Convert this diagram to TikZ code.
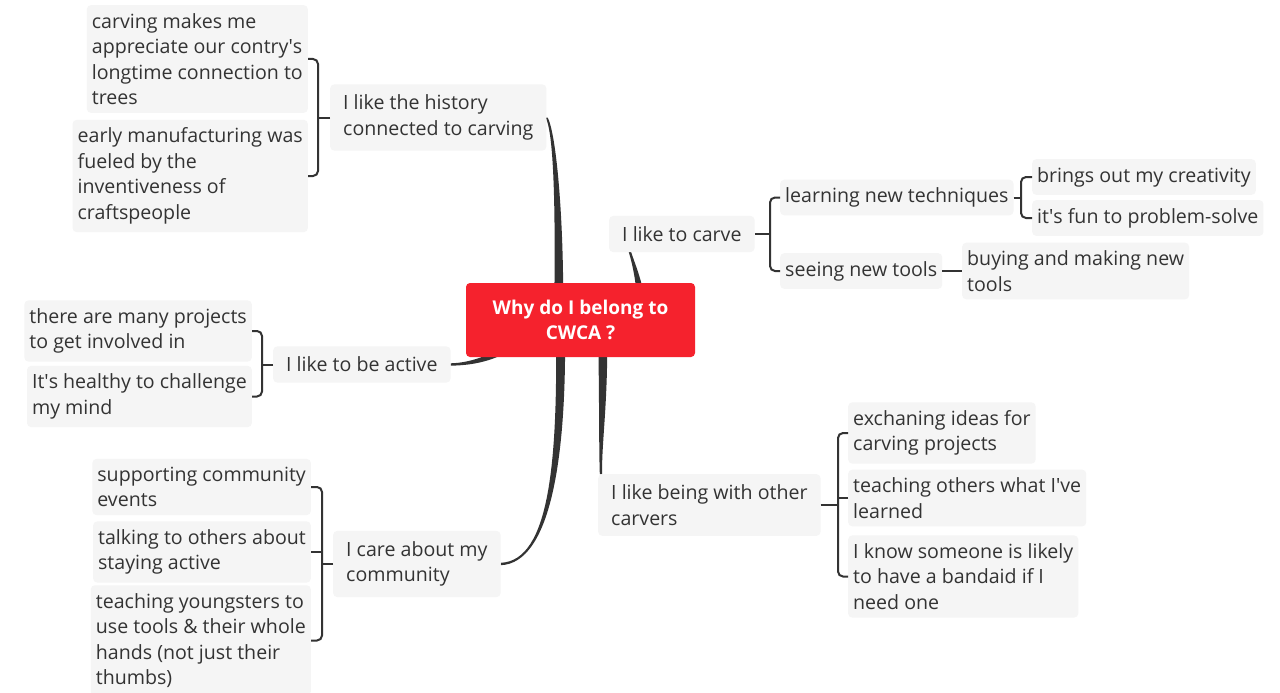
\documentclass[tikz,border=0pt]{standalone}
\usepackage{fontspec}
\setmainfont{Open Sans}
\usetikzlibrary{calc,backgrounds}

\definecolor{rootred}{HTML}{F5222D}
\definecolor{boxgray}{HTML}{F5F5F5}
\definecolor{inkgray}{HTML}{333333}

\newcommand{\ap}{\textquotesingle}
% tapered main branch: start offset from root, two controls, end point, half widths
\newcommand{\limb}[6]{%
  \fill[inkgray] ($(root.center)+(#1)+(#5)$) .. controls ($(#2)+(#5)$) and ($(#3)+(#6)$) .. ($(#4)+(#6)$)
    -- ($(#4)-(#6)$) .. controls ($(#3)-(#6)$) and ($(#2)-(#5)$) .. ($(root.center)+(#1)-(#5)$) -- cycle;}

\tikzset{
  sub/.style={fill=boxgray, text=inkgray, rounded corners=4pt, align=left,
    inner xsep=5pt, inner ysep=8pt, font=\fontsize{19.6}{25.5}\selectfont},
  topic/.style={sub, inner xsep=13pt, inner ysep=10.5pt},
  hub/.style={fill=rootred, text=white, rounded corners=4pt, align=center,
    minimum width=229pt, minimum height=74pt, font=\fontsize{19}{25.5}\selectfont\bfseries},
  brace/.style={draw=inkgray, line width=2pt, rounded corners=5pt},
}

\begin{document}
\begin{tikzpicture}[x=1pt, y=-1pt]
    \useasboundingbox (0,0) rectangle (1280,693);
    \node[hub] (root) at (580.5,320) {Why do I belong to\\CWCA ?};

    % left side
    \node[topic, anchor=west] (hist) at (330,117.5) {I like the history\\connected to carving};
    \node[sub, anchor=east] (histA) at (308,59) {carving makes me\\appreciate our contry\ap s\\longtime connection to\\trees};
    \node[sub, anchor=east] (histB) at (308,176) {early manufacturing was\\fueled by the\\inventiveness of\\craftspeople};

    \node[topic, anchor=west] (active) at (273,364.5) {I like to be active};
    \node[sub, anchor=east] (activeA) at (252,331) {there are many projects\\to get involved in};
    \node[sub, anchor=east] (activeB) at (252,396.5) {It\ap s healthy to challenge\\my mind};

    \node[topic, anchor=west] (comm) at (333,564) {I care about my\\community};
    \node[sub, anchor=east] (commA) at (311,487) {supporting community\\events};
    \node[sub, anchor=east] (commB) at (311,552) {talking to others about\\staying active};
    \node[sub, anchor=east] (commC) at (311,640.5) {teaching youngsters to\\use tools \& their whole\\hands (not just their\\thumbs)};

    % right side
    \node[topic, anchor=west] (carve) at (609,234) {I like to carve};
    \node[sub, anchor=west] (learn) at (780,197.5) {learning new techniques};
    \node[sub, anchor=west] (tools) at (780,271) {seeing new tools};
    \node[sub, anchor=west] (creat) at (1032,177) {brings out my creativity};
    \node[sub, anchor=west] (fun) at (1032,218) {it\ap s fun to problem-solve};
    \node[sub, anchor=west] (buy) at (962,271) {buying and making new\\tools};

    \node[topic, anchor=west] (carvers) at (598,505) {I like being with other\\carvers};
    \node[sub, anchor=west] (ideas) at (848,433) {exchaning ideas for\\carving projects};
    \node[sub, anchor=west] (teach) at (848,498) {teaching others what I\ap ve\\learned};
    \node[sub, anchor=west] (bandaid) at (848,576.5) {I know someone is likely\\to have a bandaid if I\\need one};

    % brackets
    \coordinate (histKnee) at ($(histA.east)+(10,0)$);
    \draw[brace] (histA.east) -- (histKnee) |- (histB.east);
    \draw[brace] (hist.west) -- (hist.west -| histKnee);

    \coordinate (activeKnee) at ($(activeA.east)+(10,0)$);
    \draw[brace] (activeA.east) -- (activeKnee) |- (activeB.east);
    \draw[brace] (active.west) -- (active.west -| activeKnee);

    \coordinate (commKnee) at ($(commA.east)+(11,0)$);
    \draw[brace] (commA.east) -- (commKnee) |- (commC.east);
    \draw[brace] (commB.east) -- (commB.east -| commKnee);
    \draw[brace] (comm.west) -- (comm.west -| commKnee);

    \coordinate (carveKnee) at ($(learn.west)+(-10,0)$);
    \draw[brace] (learn.west) -- (carveKnee) |- (tools.west);
    \draw[brace] (carve.east) -- (carve.east -| carveKnee);

    \coordinate (learnKnee) at ($(creat.west)+(-11,0)$);
    \draw[brace] (creat.west) -- (learnKnee) |- (fun.west);
    \draw[brace] (learn.east) -- (learn.east -| learnKnee);

    \draw[brace] (tools.east) -- (buy.west);

    \coordinate (carversKnee) at ($(ideas.west)+(-10,0)$);
    \draw[brace] (ideas.west) -- (carversKnee) |- (bandaid.west);
    \draw[brace] (teach.west) -- (teach.west -| carversKnee);
    \draw[brace] (carvers.east) -- (carvers.east -| carversKnee);

    % main branches
    \coordinate (carveFoot) at ($(carve.south west)+(21,0)$);
    \coordinate (carversFoot) at ($(carvers.north west)+(3,0)$);
    \begin{pgfonlayer}{background}
        \fill[white] (0,0) rectangle (1280,693);
        \limb{-22,0}{560,230}{556,135}{hist.east}{4.5,0}{1,0}
        \limb{60,0}{644,295}{634,265}{carveFoot}{4.5,0}{1.2,0}
        \limb{-60,20}{495,358}{472,364}{active.east}{0,4}{0,1.2}
        \limb{-20,10}{562,460}{550,562}{comm.east}{4.5,0}{0,1.2}
        \limb{22,10}{604,400}{600,445}{carversFoot}{4.5,0}{1.2,0}
    \end{pgfonlayer}
\end{tikzpicture}
\end{document}
